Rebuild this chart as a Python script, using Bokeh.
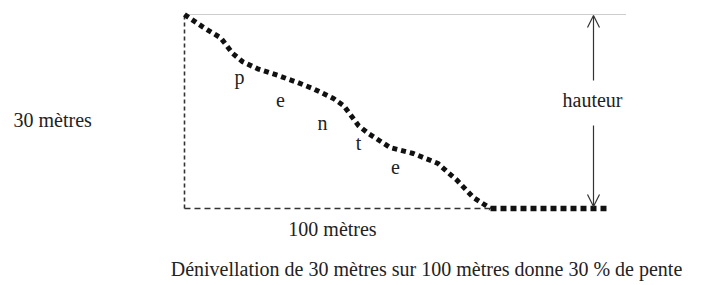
from bokeh.plotting import figure
from bokeh.models import Arrow, OpenHead, Range1d
from bokeh.core.properties import value
from bokeh.embed import file_html
from bokeh.resources import INLINE

# ---- data (metres) ----
distance_m = [0, 6.2, 11.8, 15.7, 19.0, 23.9, 30.4, 36.9, 42.2, 48.7, 52.0, 56.9,
              60.1, 67.3, 74.8, 82.7, 89.2, 94.4, 100.0]
elevation_m = [30, 28.0, 26.4, 24.0, 22.7, 21.6, 20.6, 19.5, 18.5, 17.0, 15.9, 12.8,
               11.6, 9.4, 8.5, 7.0, 4.3, 1.7, 0]
flat_distance_m = [100.0, 138.2]
flat_elevation_m = [0, 0]
height_m = 30
length_m = 100
slope_letters = ["p", "e", "n", "t", "e"]
caption = "Dénivellation de 30 mètres sur 100 mètres donne 30 % de pente"

# ---- layout helpers (page pixels -> data units) ----
PX_X = 3.06      # px per metre horizontally
PX_Y = 6.4667    # px per metre vertically
X0, Y0 = 184, 208  # page pixel of (0 m, 0 m)
W, H = 706, 285

def dx(px):
    return (px - X0) / PX_X

def dy(py):
    return (Y0 - py) / PX_Y

p = figure(width=W, height=H, output_backend="svg", toolbar_location=None,
           x_range=Range1d(dx(0), dx(W)), y_range=Range1d(dy(H), dy(0)),
           min_border=0, background_fill_color="white", border_fill_color="white")
p.axis.visible = False
p.grid.visible = False
p.outline_line_color = None

# top reference line (dotted, light)
p.line([0, dx(625)], [height_m, height_m], line_color="#9a9a9a", line_width=1, line_dash="1 1")
# vertical dashed (height)
p.line([0, 0], [0, height_m], line_color="#333333", line_width=1.6, line_dash="4 3")
# horizontal dashed (length)
p.line([0, length_m], [0, 0], line_color="#333333", line_width=1.3, line_dash="6 4")

# slope profile
p.line(distance_m, elevation_m, line_color="#111111", line_width=5, line_dash="5 4")
p.line(flat_distance_m, flat_elevation_m, line_color="#111111", line_width=5.5, line_dash="6 4")

# arrows for "hauteur"
ax = dx(593)
p.add_layout(Arrow(end=OpenHead(size=12, line_width=1.2, line_color="#333333"),
                   x_start=ax, y_start=dy(80), x_end=ax, y_end=dy(15),
                   line_color="#333333", line_width=1.2))
p.add_layout(Arrow(end=OpenHead(size=12, line_width=1.2, line_color="#333333"),
                   x_start=ax, y_start=dy(125), x_end=ax, y_end=dy(206),
                   line_color="#333333", line_width=1.2))

FONT = value("Liberation Serif")
TC = "#222222"

p.text(x=[dx(592)], y=[dy(99)], text=["hauteur"], text_font=FONT, text_font_size="20px",
       text_align="center", text_baseline="middle", text_color=TC)
p.text(x=[dx(13)], y=[dy(119)], text=[f"{height_m} mètres"], text_font=FONT, text_font_size="20px",
       text_align="left", text_baseline="middle", text_color=TC)
p.text(x=[dx(332)], y=[dy(228)], text=[f"{length_m} mètres"], text_font=FONT, text_font_size="20px",
       text_align="center", text_baseline="middle", text_color=TC)
p.text(x=[dx(426)], y=[dy(268)], text=[caption], text_font=FONT, text_font_size="20px",
       text_align="center", text_baseline="middle", text_color=TC)

letter_px = [239, 280, 322, 358, 395]
letter_py = [76, 99, 122, 142, 166]
p.text(x=[dx(v) for v in letter_px], y=[dy(v) for v in letter_py], text=slope_letters,
       text_font=FONT, text_font_size="20px", text_align="center", text_baseline="middle",
       text_color=TC)

open("out.html", "w").write(file_html(p, INLINE))
